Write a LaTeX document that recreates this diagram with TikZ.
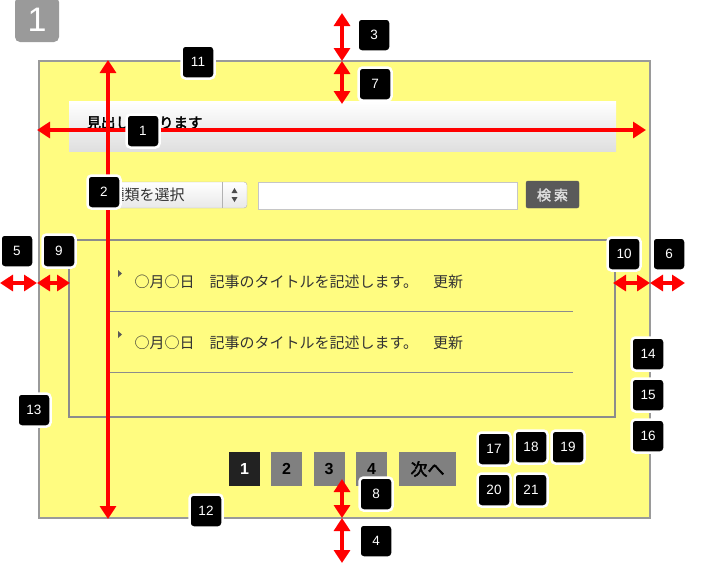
\documentclass[tikz,border=0pt]{standalone}
\usepackage{fontspec}
\setmainfont{Liberation Sans}
\newfontfamily\jpfont{Noto Sans CJK JP}
\newfontfamily\jpbold[FakeBold=2.5]{Noto Sans CJK JP}
\usetikzlibrary{arrows.meta}
\definecolor{paleyellow}{HTML}{FFFC80}
\definecolor{framegray}{HTML}{9A9A9A}
\definecolor{linegray}{HTML}{8C8C8C}
\definecolor{pgdark}{HTML}{222222}
\definecolor{pggray}{HTML}{808080}
\definecolor{btngray}{HTML}{5A5A5A}
\definecolor{textgray}{HTML}{333333}

\begin{document}
\begin{tikzpicture}[x=1pt,y=-1pt,
  badge/.style={fill=black,draw=white,line width=2.5pt,rounded corners=4pt,
    minimum size=33pt,inner sep=0pt,text=white,font=\fontsize{13.5}{13.5}\selectfont},
  redarr/.style={red,line width=4pt,
    {Triangle[width=16pt,length=13pt]}-{Triangle[width=16pt,length=13pt]}},
  pgbox/.style={minimum height=34pt,minimum width=31pt,inner sep=0pt,
    font=\bfseries\fontsize{16}{16}\selectfont}]
\useasboundingbox (0,0) rectangle (701,563);

% corner tag
\node[fill=framegray,rounded corners=5pt,minimum width=44pt,minimum height=45pt,
  text=white,font=\fontsize{34}{34}\selectfont] (tag) at (37,19.5) {1};

% frame
\draw[framegray,fill=paleyellow,line width=1.5pt] (39,61) rectangle (650,518);
\shade[top color=white,bottom color=gray!25] (69,101) rectangle (616,151);
\node[anchor=base west,font=\jpbold\fontsize{14.5}{14.5}\selectfont] (head) at (83,128) {見出しが入ります};

% search row
\draw[gray!60,top color=white,bottom color=gray!18,rounded corners=3pt] (104,182) rectangle (247,208);
\draw[gray!60] (222,182) -- (222,208);
\fill[gray!60!black] (231.5,193)--(237.5,193)--(234.5,188)--cycle;
\fill[gray!60!black] (231.5,197)--(237.5,197)--(234.5,202)--cycle;
\node[anchor=west,font=\jpfont\fontsize{15}{15}\selectfont,text=textgray] (sel) at (106,195) {種類を選択};
\draw[gray!45,fill=white] (258,182) rectangle (517,209);
\draw[gray!70!black,fill=btngray,rounded corners=2pt] (526,181) rectangle (579,208);
\node[text=gray!25,font=\jpbold\fontsize{14}{14}\selectfont] (btn) at (552.5,195) {検\hspace{3pt}索};

% list
\draw[linegray,line width=1.2pt] (69,240) rectangle (615,417);
\foreach \y/\s in {282/311,343/372}{
  \fill[gray!70!black] (118,\y-12)--(118,\y-5)--(122,\y-8.5)--cycle;
  \node[anchor=west,text=textgray,font=\jpfont\fontsize{15}{15}\selectfont] at (131,\y)
    {○月○日　記事のタイトルを記述します。　更新};
  \draw[linegray,line width=1pt] (110,\s) -- (573,\s);
}

% pager
\node[pgbox,fill=pgdark,text=white] (p1) at (244.5,469) {1};
\node[pgbox,fill=pggray] (p2) at (286.5,469) {2};
\node[pgbox,fill=pggray] (p3) at (329,469) {3};
\node[pgbox,fill=pggray] (p4) at (371.5,469) {4};
\node[pgbox,fill=pggray,minimum width=57pt,font=\jpbold\fontsize{17}{17}\selectfont] (next) at (427.5,469) {次へ};

% measures
\coordinate (wl) at (37,130);
\coordinate (wr) at (646,130);
\coordinate (ht) at (108,60);
\coordinate (hb) at (108,519);
\coordinate (t0) at (342,13);
\coordinate (t1) at (342,61);
\coordinate (t2) at (342,104);
\coordinate (u0) at (342,479);
\coordinate (u1) at (342,518);
\coordinate (u2) at (342,563);
\coordinate (l0) at (0,283);
\coordinate (l1) at (37,283);
\coordinate (l2) at (70,283);
\coordinate (r0) at (613,283);
\coordinate (r1) at (650,283);
\coordinate (r2) at (685,283);
\draw[redarr] (wl) -- (wr);
\draw[redarr] (ht) -- (hb);
\draw[redarr] (t0) -- (t1);
\draw[redarr] (t1) -- (t2);
\draw[redarr] (u0) -- (u1);
\draw[redarr] (u1) -- (u2);
\draw[redarr] (l0) -- (l1);
\draw[redarr] (l1) -- (l2);
\draw[redarr] (r0) -- (r1);
\draw[redarr] (r1) -- (r2);

% badges
\node[badge] (b1) at (143,131) {1};
\node[badge] (b2) at (104,192) {2};
\node[badge] (b3) at (374,35) {3};
\node[badge] (b4) at (376,541) {4};
\node[badge] (b5) at (17,251) {5};
\node[badge] (b6) at (669,254) {6};
\node[badge] (b7) at (375,84) {7};
\node[badge] (b8) at (376,494) {8};
\node[badge] (b9) at (59,251) {9};
\node[badge] (b10) at (624,254) {10};
\node[badge] (b11) at (198,62) {11};
\node[badge] (b12) at (206,511) {12};
\node[badge] (b13) at (34,410) {13};
\node[badge] (b14) at (648,354) {14};
\node[badge] (b15) at (648,395) {15};
\node[badge] (b16) at (648,436) {16};
\node[badge] (b17) at (494,449) {17};
\node[badge] (b18) at (531,447) {18};
\node[badge] (b19) at (568,447) {19};
\node[badge] (b20) at (494,490) {20};
\node[badge] (b21) at (531,490) {21};
\end{tikzpicture}
\end{document}
